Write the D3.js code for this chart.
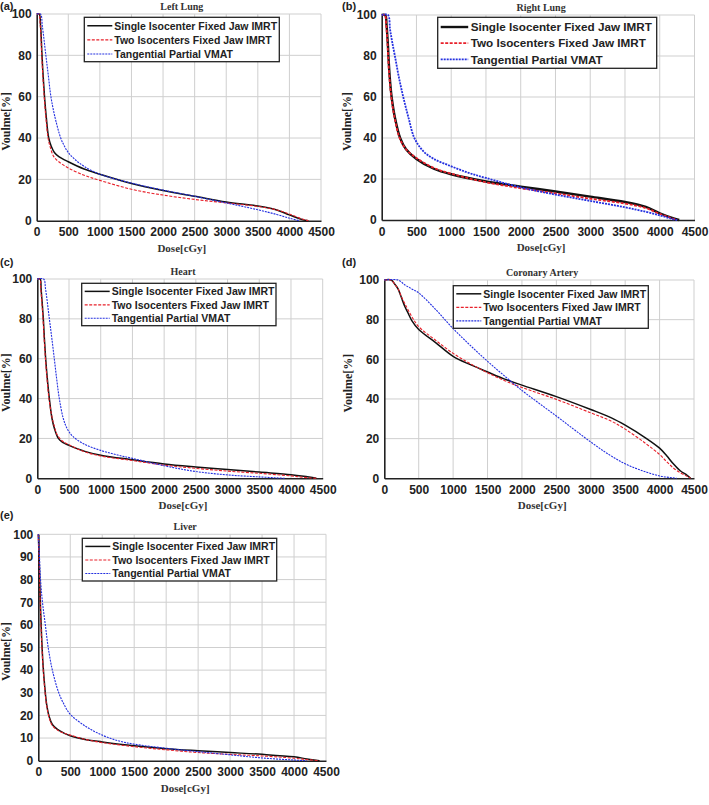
<!DOCTYPE html>
<html><head><meta charset="utf-8">
<script src="https://cdn.jsdelivr.net/npm/d3@7"></script>
<style>
body{margin:0;background:#fff;}
svg{display:block;}
.tick text{font-family:"Liberation Sans",Arial,sans-serif;font-weight:bold;font-size:12px;fill:#222;}
</style></head>
<body><svg id="c" width="709" height="805"></svg>
<script>
// ---------- data: [dose cGy, volume %] ----------
const seriesNames = ["Single Isocenter Fixed Jaw IMRT","Two Isocenters Fixed Jaw IMRT","Tangential Partial VMAT"];
const doseTicks = [0,500,1000,1500,2000,2500,3000,3500,4000,4500];
const volTicks20 = [0,20,40,60,80,100];
const volTicks10 = [0,10,20,30,40,50,60,70,80,90,100];

const leftLungSingle = [[0,100],[40,100],[60,95],[84,80],[102,70],[124,60],[152,50],[190,40],[230,36],[280,33],[350,31],[500,28.5],[750,25],[1000,22.5],[1500,18],[2000,14.6],[2500,11.8],[3000,9],[3500,7.1],[3800,5.2],[4000,2.8],[4200,0.6],[4300,0]];
const leftLungTwo = [[0,100],[35,100],[55,95],[80,80],[97,70],[118,60],[145,50],[180,40],[220,35],[270,31],[350,28.5],[500,25.5],[750,22],[1000,19.5],[1500,15.2],[2000,12.4],[2500,10.3],[3000,8.6],[3500,6.9],[3800,5.2],[4000,3.2],[4200,0.8],[4300,0]];
const leftLungVmat = [[0,100],[60,100],[90,94],[145,80],[185,70],[225,60],[290,50],[380,40],[440,36],[500,33],[600,29.8],[750,26.3],[1000,22.5],[1500,18.2],[2000,14.8],[2500,11.8],[3000,8.6],[3500,5.3],[3800,3],[4000,1.2],[4150,0]];

const rightLungSingle = [[0,100],[50,100],[70,95],[90,85],[97,80],[115,70],[143,60],[190,50],[265,40],[350,34.5],[500,29.8],[750,25],[1000,22.3],[1500,18.8],[2000,16.3],[2500,13.9],[3000,11.4],[3500,8.8],[3800,6.4],[4000,3.3],[4200,0.8],[4280,0]];
const rightLungTwo = [[0,100],[45,100],[65,95],[85,85],[92,80],[110,70],[138,60],[185,50],[258,40],[350,34.5],[500,30.2],[750,25.4],[1000,22.6],[1500,18.4],[2000,15.5],[2500,13],[3000,10.4],[3500,8],[3800,5.8],[4000,3],[4200,0.6],[4250,0]];
const rightLungVmat = [[0,100],[90,100],[120,93],[150,87],[190,80],[245,70],[310,60],[385,50],[470,40],[600,33.5],[750,29.8],[1000,26.2],[1250,23],[1500,20.5],[2000,15.9],[2500,12.4],[3000,9.3],[3500,6.2],[3800,4],[4000,2.3],[4200,0.3],[4250,0]];

const heartSingle = [[0,100],[45,100],[60,95],[95,80],[112,70],[132,60],[158,50],[190,40],[232,30],[270,25],[332,20],[400,18],[500,16.5],[750,13.5],[1000,11.6],[1500,9.3],[2000,7.2],[2500,5.7],[3000,4.4],[3500,3.1],[4000,1.8],[4200,1],[4400,0]];
const heartTwo = [[0,100],[40,100],[55,95],[90,80],[108,70],[128,60],[153,50],[184,40],[230,31],[270,26],[310,22],[400,18.6],[500,16.8],[750,13.3],[1000,11.2],[1500,8.9],[2000,6.6],[2500,5],[3000,3.6],[3500,2.5],[4000,1.2],[4200,0.5],[4400,0]];
const heartVmat = [[0,100],[100,100],[130,95],[190,80],[230,70],[268,60],[305,50],[347,40],[410,30],[470,25],[560,21],[750,17],[1000,14],[1250,11.8],[1500,10],[2000,6.3],[2500,3.4],[3000,1.7],[3500,0.7],[3900,0]];

const coronarySingle = [[0,100],[100,100],[150,98],[200,95.5],[250,91],[300,86.5],[350,83],[400,79.5],[500,75],[750,68.3],[1000,61.5],[1250,57.3],[1500,53.6],[1750,50],[2000,47],[2500,41.2],[3000,34.7],[3300,30.5],[3500,26.8],[3800,20.3],[4000,15.2],[4100,11.5],[4200,7.3],[4300,3.8],[4400,1.5],[4450,0]];
const coronaryTwo = [[0,100],[100,100],[150,98],[200,95.5],[250,91.5],[300,88],[400,81.5],[500,76.5],[750,69.5],[1000,63],[1250,57.8],[1500,53.2],[1750,49.2],[2000,45.8],[2500,39.8],[3000,33],[3300,28.8],[3500,24.8],[3800,17.5],[4000,12],[4100,8.5],[4200,5.2],[4300,2.8],[4400,1],[4450,0]];
const coronaryVmat = [[0,100],[200,100],[300,97.5],[400,95.5],[500,93.5],[750,85],[1000,75.5],[1250,67],[1500,59],[1750,51.5],[2000,44.3],[2250,37.8],[2500,31.4],[2750,24.8],[3000,18.3],[3250,12.3],[3500,7.3],[3750,3.8],[4000,1.2],[4200,0.2],[4250,0]];

const liverSingle = [[0,100],[15,88],[30,72],[50,56],[75,42],[100,33],[130,25],[170,19.5],[220,16],[300,13.8],[400,12.2],[500,11],[750,9.3],[1000,8.3],[1500,6.6],[2000,5.3],[2500,4.4],[3000,3.6],[3500,2.8],[4000,1.7],[4200,0.8],[4400,0]];
const liverTwo = [[0,100],[15,87],[30,70],[50,54],[75,41],[100,32],[130,24.5],[170,19],[220,15.5],[300,13.5],[400,12.2],[500,11.3],[750,9.3],[1000,8],[1500,6.2],[2000,4.8],[2500,3.6],[3000,2.8],[3500,2.1],[4000,1.1],[4200,0.5],[4400,0]];
const liverVmat = [[0,100],[15,92],[35,80],[65,70],[110,60],[155,50],[220,40],[320,30],[400,25],[500,20.5],[750,15],[1000,11.3],[1250,8.8],[1500,7.3],[2000,5.5],[2500,4],[3000,2.6],[3500,1.2],[4000,0.3],[4200,0]];

// ---------- layout ----------
const panels = [
  {tag:"(a)",title:"Left Lung",data:[leftLungSingle,leftLungTwo,leftLungVmat],yt:volTicks20,
   x0:36.7,x1:321,y0:14,y1:220.7,tagX:0,tagY:10,ylabX:6,leg:{x:84.3,y:17.3,w:195,h:44.4,fs:10.5,big:false}},
  {tag:"(b)",title:"Right Lung",data:[rightLungSingle,rightLungTwo,rightLungVmat],yt:volTicks20,
   x0:381.7,x1:694.5,y0:15,y1:220,tagX:342,tagY:10,ylabX:347,leg:{x:437.7,y:17.3,w:219,h:51,fs:11.7,big:true}},
  {tag:"(c)",title:"Heart",data:[heartSingle,heartTwo,heartVmat],yt:volTicks20,
   x0:37.3,x1:322.7,y0:279,y1:478.3,tagX:0,tagY:266,ylabX:6,leg:{x:81.7,y:283.3,w:194.3,h:42.4,fs:10.5,big:false}},
  {tag:"(d)",title:"Coronary Artery",data:[coronarySingle,coronaryTwo,coronaryVmat],yt:volTicks20,
   x0:384.3,x1:694,y0:280,y1:478.3,tagX:342,tagY:266,ylabX:348,leg:{x:453.3,y:285.7,w:195,h:42.6,fs:10.5,big:false}},
  {tag:"(e)",title:"Liver",data:[liverSingle,liverTwo,liverVmat],yt:volTicks10,
   x0:38.3,x1:326,y0:534.3,y1:760.7,tagX:0,tagY:519,ylabX:6,leg:{x:82.3,y:538.3,w:194.4,h:42.7,fs:10.5,big:false}}
];

const colors = ["#111111","#e8202a","#2430e0"];
const svg = d3.select("#c");
const sans = "'Liberation Sans',Arial,sans-serif";
const serif = "'Liberation Serif','Times New Roman',serif";

panels.forEach(p=>{
  const x = d3.scaleLinear().domain([0,4500]).range([p.x0,p.x1]);
  const y = d3.scaleLinear().domain([0,100]).range([p.y1,p.y0]);
  const g = svg.append("g");
  // grid
  g.append("g").selectAll("line.v").data(doseTicks.slice(1)).join("line")
    .attr("x1",d=>x(d)).attr("x2",d=>x(d)).attr("y1",p.y0).attr("y2",p.y1)
    .attr("stroke","#cfcfcf").attr("stroke-width",1);
  g.append("g").selectAll("line.h").data(p.yt.slice(1)).join("line")
    .attr("x1",p.x0).attr("x2",p.x1).attr("y1",d=>y(d)).attr("y2",d=>y(d))
    .attr("stroke","#cfcfcf").attr("stroke-width",1);
  // axes
  const ax = g.append("g").attr("transform",`translate(0,${p.y1})`)
    .call(d3.axisBottom(x).tickValues(doseTicks).tickSize(0).tickPadding(7).tickFormat(d3.format("d")));
  ax.select(".domain").attr("stroke","#222").attr("stroke-width",1.6);
  const ay = g.append("g").attr("transform",`translate(${p.x0},0)`)
    .call(d3.axisLeft(y).tickValues(p.yt).tickSize(0).tickPadding(5).tickFormat(d3.format("d")));
  ay.select(".domain").attr("stroke","#222").attr("stroke-width",1.6);
  // curves
  const line = d3.line().x(d=>x(d[0])).y(d=>y(d[1])).curve(d3.curveCatmullRom.alpha(0.5));
  const styles = [
    {w:p.leg.big?2.4:1.5,dash:null},
    {w:p.leg.big?1.8:1.1,dash:"3,1.5"},
    {w:p.leg.big?1.8:1.1,dash:"2,1"}
  ];
  [0,1,2].forEach(i=>{
    g.append("path").datum(p.data[i]).attr("d",line).attr("fill","none")
      .attr("stroke",colors[i]).attr("stroke-width",styles[i].w)
      .attr("stroke-dasharray",styles[i].dash);
  });
  // legend
  const L = p.leg;
  const lg = g.append("g");
  lg.append("rect").attr("x",L.x).attr("y",L.y).attr("width",L.w).attr("height",L.h)
    .attr("fill","#fff").attr("stroke","#222").attr("stroke-width",1.3);
  const rowH = L.h/3.15;
  seriesNames.forEach((n,i)=>{
    const cy = L.y + rowH*(i+0.6);
    lg.append("line").attr("x1",L.x+3).attr("x2",L.x+3+25*(L.big?1.1:1)).attr("y1",cy).attr("y2",cy)
      .attr("stroke",colors[i]).attr("stroke-width",styles[i].w).attr("stroke-dasharray",styles[i].dash);
    lg.append("text").attr("x",L.x+30*(L.big?1.1:1)).attr("y",cy).attr("dy","0.36em")
      .attr("font-family",sans).attr("font-weight","bold").attr("font-size",L.fs).attr("fill","#222").text(n);
  });
  // titles and labels
  g.append("text").attr("x",(p.x0+p.x1)/2+3).attr("y",p.y0-4).attr("text-anchor","middle")
    .attr("font-family",serif).attr("font-weight","bold").attr("font-size",10).attr("fill","#333").text(p.title);
  g.append("text").attr("x",(p.x0+p.x1)/2+3).attr("y",p.y1+31).attr("text-anchor","middle")
    .attr("font-family",serif).attr("font-weight","bold").attr("font-size",11).attr("fill","#333").text("Dose[cGy]");
  g.append("text").attr("transform",`translate(${p.ylabX+4},${(p.y0+p.y1)/2+4}) rotate(-90)`).attr("text-anchor","middle")
    .attr("font-family",serif).attr("font-weight","bold").attr("font-size",12).attr("fill","#222").text("Voulme[%]");
  g.append("text").attr("x",p.tagX).attr("y",p.tagY).attr("font-family",sans).attr("font-weight","bold")
    .attr("font-size",11).attr("fill","#222").text(p.tag);
});
</script></body></html>
